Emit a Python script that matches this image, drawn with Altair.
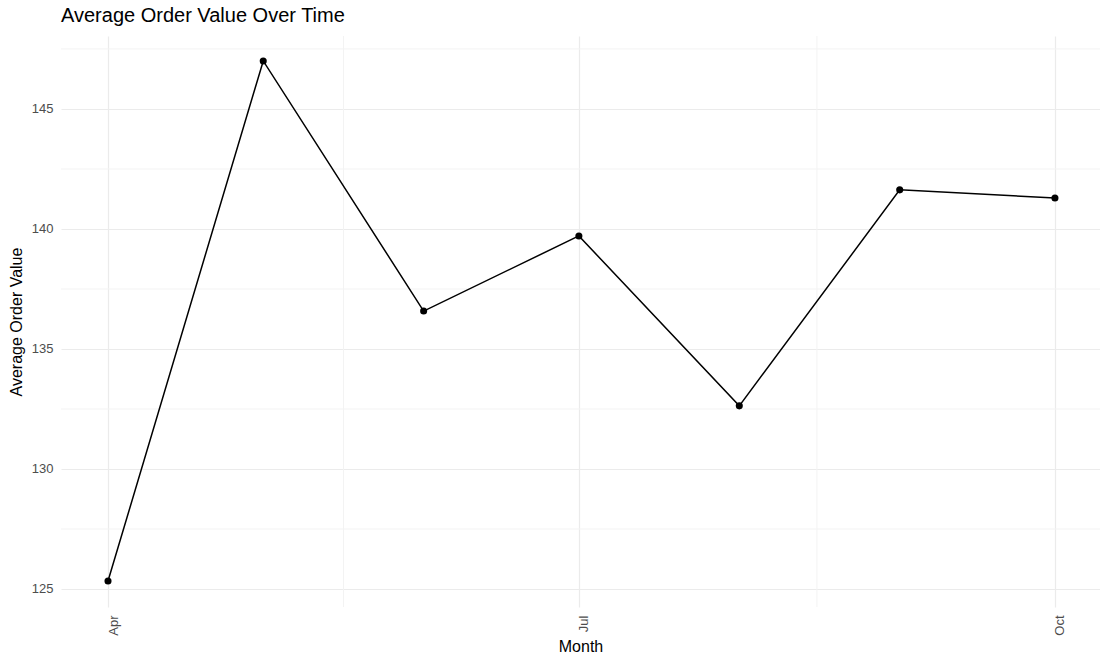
import altair as alt
import pandas as pd

# Data
months = ["2023-04-01T00:00:00", "2023-05-01T00:00:00", "2023-06-01T00:00:00",
          "2023-07-01T00:00:00", "2023-08-01T00:00:00", "2023-09-01T00:00:00",
          "2023-10-01T00:00:00"]
avg_order_value = [125.33, 147.0, 136.58, 139.71, 132.63, 141.63, 141.29]

# Grid breaks (ggplot style)
y_major = [125, 130, 135, 140, 145]
y_minor = [127.5, 132.5, 137.5, 142.5, 147.5]
x_minor = ["2023-05-16T12:00:00", "2023-08-16T00:00:00"]

x_domain = ["2023-03-22T22:00:00", "2023-10-09T17:00:00"]
y_domain = [124.25, 148.04]

df = pd.DataFrame({"month": months, "value": avg_order_value})
df_yminor = pd.DataFrame({"y": y_minor})
df_xminor = pd.DataFrame({"x": x_minor})

FONT = "Liberation Sans"

x_scale = alt.Scale(domain=x_domain)
y_scale = alt.Scale(domain=y_domain, nice=False, zero=False)

x_axis = alt.Axis(
    values=[alt.DateTime(year=2023, month=m, date=1) for m in (4, 7, 10)],
    format="%b",
    labelAngle=270,
    labelAlign="right",
    labelBaseline="middle",
    labelOffset=5,
    labelPadding=8,
    grid=True,
    gridColor="#ebebeb",
    gridWidth=1.2,
    ticks=False,
    domain=False,
    labelFontSize=13,
    labelColor="#4d4d4d",
    labelFont=FONT,
    titleFont=FONT,
    titleFontSize=16,
    titleFontWeight="normal",
    titleColor="#000000",
    titleX=519.5,
    titleY=39,
    titleBaseline="middle",
    titleAlign="center",
)

y_axis = alt.Axis(
    values=y_major,
    grid=True,
    gridColor="#ebebeb",
    gridWidth=1.2,
    ticks=False,
    domain=False,
    labelPadding=8,
    labelFontSize=13,
    labelColor="#4d4d4d",
    labelFont=FONT,
    titleFont=FONT,
    titleFontSize=16,
    titleFontWeight="normal",
    titleColor="#000000",
    titleX=-45,
    titleY=285.5,
    titleAngle=270,
    titleBaseline="middle",
    titleAlign="center",
)

minor_y = alt.Chart(df_yminor).mark_rule(color="#f3f3f3", strokeWidth=1).encode(
    y=alt.Y("y:Q", scale=y_scale, axis=y_axis, title="Average Order Value")
)
minor_x = alt.Chart(df_xminor).mark_rule(color="#f3f3f3", strokeWidth=1).encode(
    x=alt.X("x:T", scale=x_scale, axis=x_axis, title="Month")
)

base = alt.Chart(df).encode(
    x=alt.X("month:T", scale=x_scale, title="Month", axis=x_axis),
    y=alt.Y("value:Q", scale=y_scale, title="Average Order Value", axis=y_axis),
)

line = base.mark_line(color="#000000", strokeWidth=1.5)
points = base.mark_circle(color="#000000", size=50, opacity=1)

chart = (
    alt.layer(minor_y, minor_x, line, points)
    .properties(
        width=1039,
        height=571,
        background="#ffffff",
        title=alt.TitleParams(
            "Average Order Value Over Time",
            anchor="start",
            frame="group",
            font=FONT,
            fontSize=20,
            fontWeight="normal",
            color="#000000",
            offset=10,
        ),
        padding={"left": 61, "top": 36, "right": 0, "bottom": 59},
        autosize=alt.AutoSizeParams(type="none"),
    )
    .configure_view(stroke="transparent", strokeWidth=0)
)

chart.save("out.html", embed_options={"renderer": "svg", "actions": False})
